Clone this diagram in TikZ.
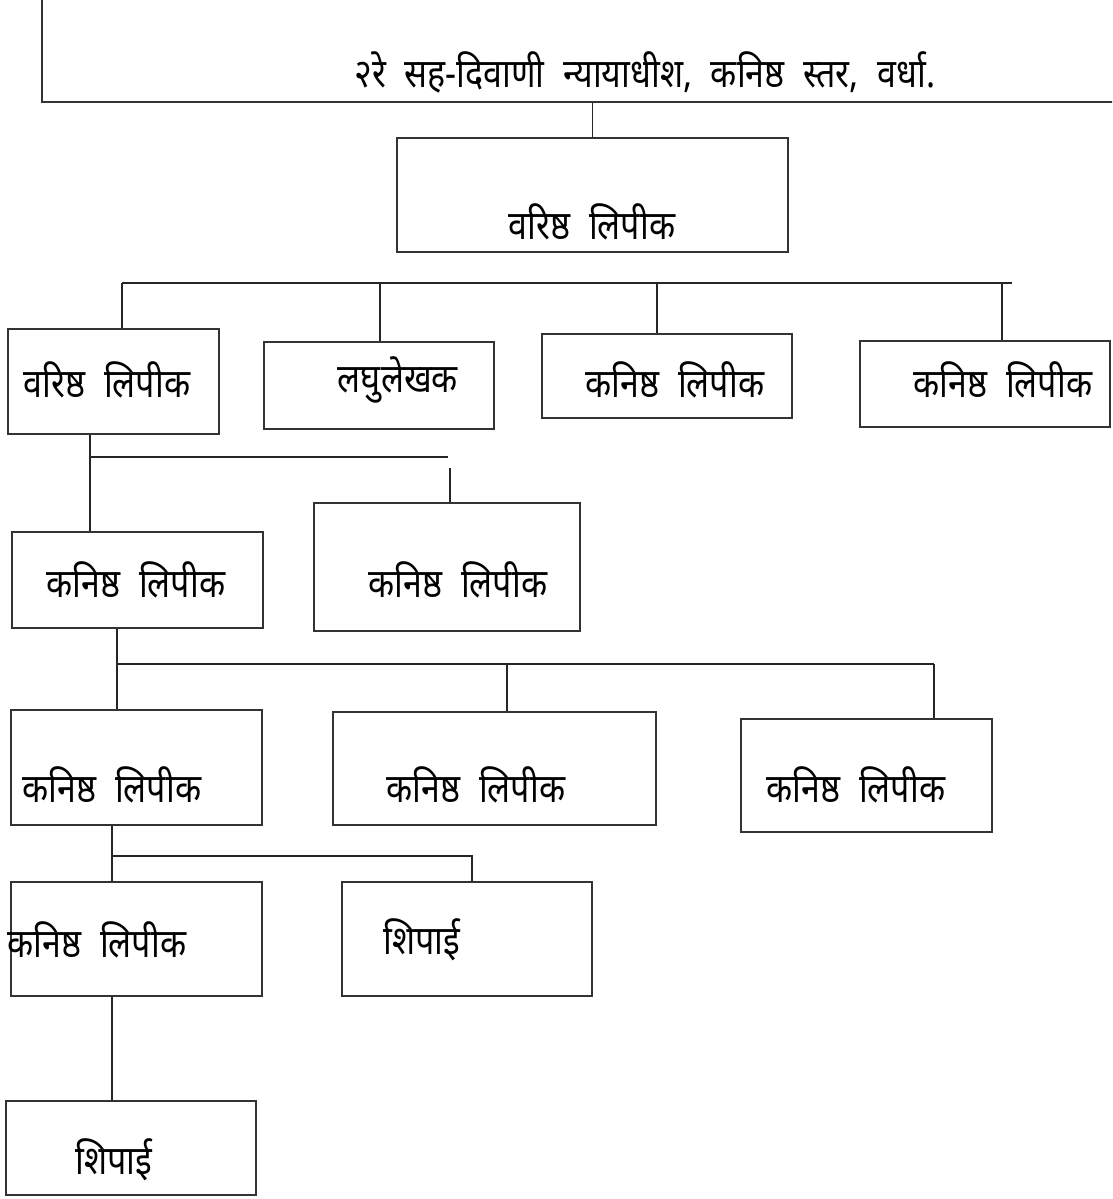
\documentclass[tikz,border=0pt]{standalone}
\usepackage{fontspec}
\newfontfamily\deva[Script=Devanagari, FakeStretch=0.85, WordSpace=2.1]{Noto Sans}
\usetikzlibrary{calc}

\tikzset{
    box/.style={draw=black!80, line width=1.5pt, rectangle, inner sep=0pt},
    lbl/.style={font=\deva\fontsize{40}{46}\selectfont, inner sep=0pt},
    link/.style={draw=black!85, line width=1.1pt}
}

\begin{document}
\begin{tikzpicture}[x=1pt, y=-1pt]
        \useasboundingbox (0,0) rectangle (1112,1199);
        \clip (0,0) rectangle (1112,1199);

        % Top office
        \node [box, minimum width=1098pt, minimum height=142pt] (office) at (591,31) {};
        \node [lbl] (officeT) at (645,72) {२रे सह-दिवाणी न्यायाधीश, कनिष्ठ स्तर, वर्धा.};

        % Senior clerk
        \node [box, minimum width=391pt, minimum height=114pt] (sr) at (592.5,195) {};
        \node [lbl] (srT) at (592,222) {वरिष्ठ लिपीक};
        \draw [link] (sr.north) -- (sr.north |- office.south);

        % Row 1
        \node [box, minimum width=211pt, minimum height=105pt] (srA) at (113.5,381.5) {};
        \node [lbl] (srAT) at (107,380) {वरिष्ठ लिपीक};
        \node [box, minimum width=230pt, minimum height=87pt] (steno) at (379,385.5) {};
        \node [lbl] (stenoT) at (398,380) {लघुलेखक};
        \node [box, minimum width=250pt, minimum height=84pt] (jrC) at (667,376) {};
        \node [lbl] (jrCT) at (675,380) {कनिष्ठ लिपीक};
        \node [box, minimum width=250pt, minimum height=86pt] (jrD) at (985,384) {};
        \node [lbl] (jrDT) at (1003,380) {कनिष्ठ लिपीक};

        \coordinate (busA) at (122,283);
        \coordinate (busB) at (380,283);
        \coordinate (busC) at (657,283);
        \coordinate (busD) at (1002,283);
        \coordinate (busEnd) at (1012,283);
        \draw [link] (busA) -- (busEnd);
        \draw [link] (busA) -- (busA |- srA.north);
        \draw [link] (busB) -- (busB |- steno.north);
        \draw [link] (busC) -- (busC |- jrC.north);
        \draw [link] (busD) -- (busD |- jrD.north);

        % Row 2
        \node [box, minimum width=251pt, minimum height=96pt] (jrE) at (137.5,580) {};
        \node [lbl] (jrET) at (136,580) {कनिष्ठ लिपीक};
        \node [box, minimum width=266pt, minimum height=128pt] (jrF) at (447,567) {};
        \node [lbl] (jrFT) at (458,580) {कनिष्ठ लिपीक};

        \coordinate (twoL) at (90,457);
        \coordinate (twoR) at (448,457);
        \coordinate (twoF) at (450,468);
        \draw [link] (srA.south -| twoL) -- (twoL |- jrE.north);
        \draw [link] (twoL) -- (twoR);
        \draw [link] (twoF) -- (twoF |- jrF.north);

        % Row 3
        \node [box, minimum width=251pt, minimum height=115pt] (jrG) at (136.5,767.5) {};
        \node [lbl] (jrGT) at (112,785) {कनिष्ठ लिपीक};
        \node [box, minimum width=323pt, minimum height=113pt] (jrH) at (494.5,768.5) {};
        \node [lbl] (jrHT) at (476,785) {कनिष्ठ लिपीक};
        \node [box, minimum width=251pt, minimum height=113pt] (jrI) at (866.5,775.5) {};
        \node [lbl] (jrIT) at (856,785) {कनिष्ठ लिपीक};

        \coordinate (threeL) at (117,664);
        \coordinate (threeH) at (507,664);
        \coordinate (threeI) at (934,664);
        \draw [link] (jrE.south -| threeL) -- (threeL |- jrG.north);
        \draw [link] (threeL) -- (threeI);
        \draw [link] (threeH) -- (threeH |- jrH.north);
        \draw [link] (threeI) -- (threeI |- jrI.north);

        % Row 4
        \node [box, minimum width=251pt, minimum height=114pt] (jrJ) at (136.5,939) {};
        \node [lbl] (jrJT) at (97,940) {कनिष्ठ लिपीक};
        \node [box, minimum width=250pt, minimum height=114pt] (peonK) at (467,939) {};
        \node [lbl] (peonKT) at (422,940) {शिपाई};

        \coordinate (fourL) at (112,856);
        \coordinate (fourK) at (472,856);
        \draw [link] (jrG.south -| fourL) -- (fourL |- jrJ.north);
        \draw [link] (fourL) -- (fourK) -- (fourK |- peonK.north);

        % Last peon
        \node [box, minimum width=250pt, minimum height=94pt] (peonL) at (131,1148) {};
        \node [lbl] (peonLT) at (114,1160) {शिपाई};
        \draw [link] (jrJ.south -| fourL) -- (fourL |- peonL.north);

    \end{tikzpicture}
\end{document}
